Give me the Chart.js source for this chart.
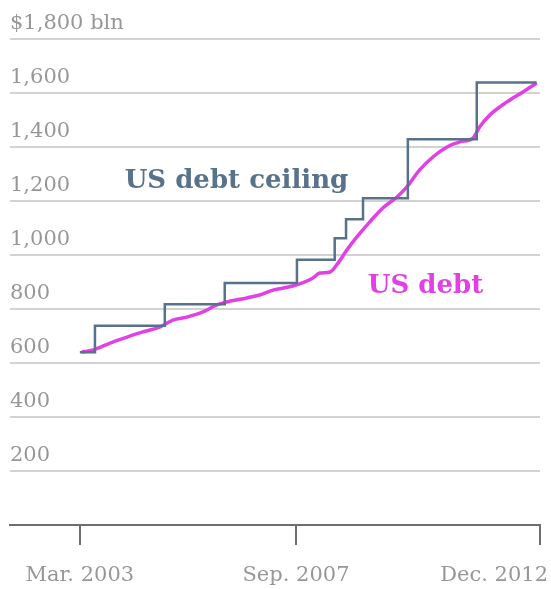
<!DOCTYPE html>
<html>
<head>
<meta charset="utf-8">
<script src="https://cdn.jsdelivr.net/npm/chart.js@4"></script>
<style>
    html, body { margin: 0; padding: 0; background: #ffffff; }
    #wrap { width: 551px; height: 589px; position: relative; }
</style>
</head>
<body>
<div id="wrap"><canvas id="debtChart"></canvas></div>
<script>
// Dates are decimal years, values in the chart's own "bln" units
const ceilingDates = [2003.17, 2003.49, 2004.97, 2006.24, 2007.77, 2008.57, 2008.81, 2009.17, 2010.12, 2011.58, 2012.85];
const ceilingValues = [640, 738, 818, 896, 982, 1062, 1132, 1210, 1429, 1639, 1639];

const debtDates = [2003.21, 2003.45, 2003.81, 2004.17, 2004.50, 2004.86, 2005.14, 2005.44, 2005.78, 2006.07,
    2006.28, 2006.71, 2006.98, 2007.26, 2007.68, 2008.11, 2008.25, 2008.47, 2008.64, 2008.83,
    2009.04, 2009.31, 2009.59, 2009.89, 2010.10, 2010.37, 2010.65, 2010.95, 2011.22, 2011.50,
    2011.64, 2011.86, 2012.22, 2012.56, 2012.85];
const debtValues = [641, 648, 674, 696, 715, 733, 759, 770, 789, 815,
    826, 841, 852, 870, 885, 915, 933, 937, 970, 1019,
    1067, 1122, 1174, 1215, 1252, 1315, 1363, 1400, 1419, 1433,
    1474, 1519, 1567, 1604, 1637];

const xTickValues = [2003.17, 2007.75, 2012.92];
const xTickLabels = ['Mar. 2003', 'Sep. 2007', 'Dec. 2012'];

const yTickValues = [0, 200, 400, 600, 800, 1000, 1200, 1400, 1600, 1800];
const yTickLabels = ['', '200', '400', '600', '800', '1,000', '1,200', '1,400', '1,600', '$1,800 bln'];

const seriesNames = ['US debt ceiling', 'US debt'];

const SERIF = '"DejaVu Serif", "Liberation Serif", serif';
const CEILING_COLOR = '#57728a';
const DEBT_COLOR = '#e33fe6';
const LABEL_GREY = '#979797';

// Draws the bottom date labels (last one kept inside the canvas) and the series captions
const labelsPlugin = {
    id: 'labelsPlugin',
    afterDraw(chart) {
        const ctx = chart.ctx;
        const x = chart.scales.x;
        const y = chart.scales.y;
        ctx.save();

        ctx.font = '21px ' + SERIF;
        ctx.fillStyle = LABEL_GREY;
        ctx.textBaseline = 'middle';
        xTickValues.forEach((v, i) => {
            const px = x.getPixelForValue(v);
            const last = i === xTickValues.length - 1;
            ctx.textAlign = last ? 'right' : 'center';
            ctx.fillText(xTickLabels[i], last ? px + 8 : px, x.top + 51);
        });

        ctx.font = 'bold 26px ' + SERIF;
        ctx.textAlign = 'left';
        ctx.textBaseline = 'alphabetic';
        ctx.fillStyle = CEILING_COLOR;
        ctx.fillText(seriesNames[0], x.getPixelForValue(2004.12), y.getPixelForValue(1248));
        ctx.fillStyle = DEBT_COLOR;
        ctx.fillText(seriesNames[1], x.getPixelForValue(2009.27), y.getPixelForValue(858));

        ctx.restore();
    }
};

const ctx = document.getElementById('debtChart').getContext('2d');
new Chart(ctx, {
    type: 'line',
    data: {
        datasets: [
            {
                label: seriesNames[0],
                data: ceilingDates.map((d, i) => ({ x: d, y: ceilingValues[i] })),
                borderColor: CEILING_COLOR,
                borderWidth: 2.5,
                stepped: 'before',
                pointRadius: 0,
                fill: false
            },
            {
                label: seriesNames[1],
                data: debtDates.map((d, i) => ({ x: d, y: debtValues[i] })),
                borderColor: DEBT_COLOR,
                borderWidth: 3.5,
                cubicInterpolationMode: 'monotone',
                pointRadius: 0,
                fill: false
            }
        ]
    },
    options: {
        responsive: true,
        maintainAspectRatio: false,
        animation: false,
        layout: {
            padding: { left: 10, right: 11, top: 39, bottom: 44 }
        },
        plugins: {
            legend: { display: false },
            tooltip: { enabled: false }
        },
        scales: {
            x: {
                type: 'linear',
                min: 2001.69,
                max: 2012.92,
                afterBuildTicks: (scale) => {
                    scale.ticks = xTickValues.map(v => ({ value: v }));
                },
                ticks: { display: false },
                grid: {
                    drawOnChartArea: false,
                    drawTicks: true,
                    tickLength: 20,
                    color: '#6e6e6e',
                    lineWidth: 2
                },
                border: { display: true, color: '#6e6e6e', width: 2 }
            },
            y: {
                min: 0,
                max: 1800,
                afterBuildTicks: (scale) => {
                    scale.ticks = yTickValues.map(v => ({ value: v }));
                },
                ticks: {
                    mirror: true,
                    padding: 0,
                    labelOffset: -15,
                    color: LABEL_GREY,
                    font: { family: SERIF, size: 21 },
                    callback: (value) => yTickLabels[yTickValues.indexOf(value)]
                },
                grid: {
                    drawTicks: false,
                    color: (c) => c.tick && c.tick.value === 0 ? 'rgba(0,0,0,0)' : '#d2d2d2',
                    lineWidth: 2
                },
                border: { display: false }
            }
        }
    },
    plugins: [labelsPlugin]
});
</script>
</body>
</html>
